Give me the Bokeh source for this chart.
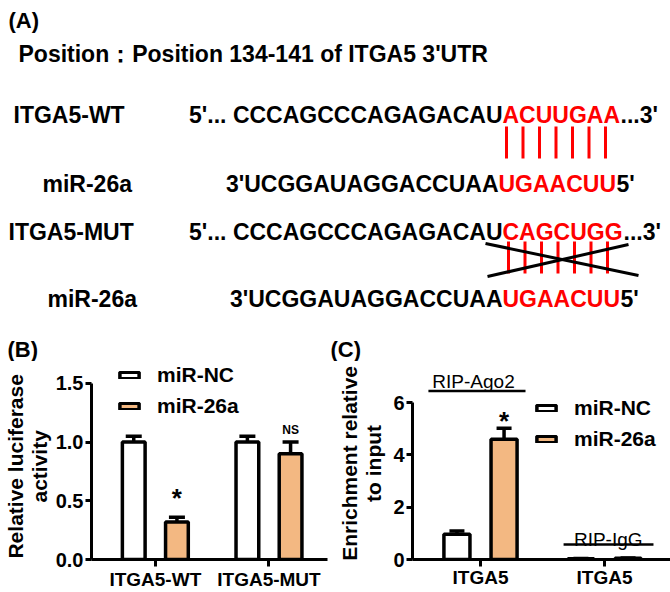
from bokeh.plotting import figure
from bokeh.models import (Range1d, ColumnDataSource, Whisker, TeeHead, Label, Legend,
                          LegendItem, FixedTicker, PrintfTickFormatter)
from bokeh.layouts import column, row
from bokeh.core.properties import value
from bokeh.embed import file_html
from bokeh.resources import INLINE

# ---------------- data: panel A ----------------
panel_tags = ["(A)", "(B)", "(C)"]
position_text = "Position\uff1aPosition 134-141 of ITGA5 3'UTR"
row_labels = ["ITGA5-WT", "miR-26a", "ITGA5-MUT", "miR-26a"]
seq_head = ["5'... CCCAGCCCAGAGACAU", "3'UCGGAUAGGACCUAA",
            "5'... CCCAGCCCAGAGACAU", "3'UCGGAUAGGACCUAA"]
seq_site = ["ACUUGAA", "UGAACUU", "CAGCUGG", "UGAACUU"]
seq_tail = ["...3'", "5'", "...3'", "5'"]
n_pairs = 7

# ---------------- data: panel B ----------------
series = ["miR-NC", "miR-26a"]
b_categories = ["ITGA5-WT", "ITGA5-MUT"]
b_nc = [1.0, 1.0]
b_nc_err = [0.05, 0.05]
b_mir = [0.32, 0.90]
b_mir_err = [0.04, 0.10]
b_marks = ["*", "NS"]
b_yticks = [0, 0.5, 1.0, 1.5]
b_ylabel = ["Relative luciferase", "activity"]

# ---------------- data: panel C ----------------
c_categories = ["ITGA5", "ITGA5"]
c_groups = ["RIP-Ago2", "RIP-IgG"]
c_nc = [0.97, 0.03]
c_nc_err = [0.12, 0.01]
c_mir = [4.6, 0.05]
c_mir_err = [0.42, 0.01]
c_marks = ["*", ""]
c_yticks = [0, 2, 4, 6]
c_ylabel = ["Enrichment relative", "to input"]

# ---------------- styles ----------------
FONT = "Liberation Sans"
RED = "#FF0000"
ORANGE = "#F3B882"
BAR_LW = 3.5
NBSP = "\u00a0"

# ================= Panel A (diagram, also holds the B/C panel tags) =================
A_H = 361
pa = figure(width=670, height=A_H, x_range=Range1d(0, 670), y_range=Range1d(A_H, 0),
            x_axis_type=None, y_axis_type=None, toolbar_location=None,
            output_backend="svg", min_border=0, outline_line_color=None)

txt = dict(text_font=value(FONT), text_font_style="bold", text_baseline="alphabetic")
pa.text(x=[8, 7, 330], y=[20, 349, 349], text=panel_tags, text_font_size="22px",
        text_color="black", text_align="left", **txt)
pa.text(x=[18], y=[53], text=[position_text], text_font_size="23px", text_color="black",
        text_align="left", **txt)

row_base = [114, 183, 231, 298]
label_x = [13, 42, 8, 47]
site_x = [502, 498, 502, 502]
tail_x = [620, 616, 623, 620]

pa.text(x=label_x, y=row_base, text=row_labels, text_font_size="23px", text_color="black",
        text_align="left", **txt)
pa.text(x=site_x, y=row_base, text=seq_head, text_font_size="23px", text_color="black",
        text_align="right", **txt)
pa.text(x=site_x, y=row_base, text=seq_site, text_font_size="23px", text_color=RED,
        text_align="left", **txt)
pa.text(x=tail_x, y=row_base, text=seq_tail, text_font_size="23px", text_color="black",
        text_align="left", **txt)

wt_x = [506 + 16.5 * i for i in range(n_pairs)]
mut_x = [508 + 16.5 * i for i in range(n_pairs)]
pa.segment(x0=wt_x, y0=[126] * n_pairs, x1=wt_x, y1=[158] * n_pairs,
           line_color=RED, line_width=3)
pa.segment(x0=mut_x, y0=[241] * n_pairs, x1=mut_x, y1=[273] * n_pairs,
           line_color=RED, line_width=3)
pa.segment(x0=[485, 487], y0=[243, 276], x1=[638, 628], y1=[275, 244],
           line_color="black", line_width=3)


def style_axes(p, yticks, xlabels, ylabel_lines, pad, ylab_standoff, xlab_standoff,
               yfmt=None):
    yax = p.yaxis[0]
    yax.bounds = (yticks[0], yticks[-1])
    yax.ticker = FixedTicker(ticks=yticks)
    if yfmt:
        yax.formatter = PrintfTickFormatter(format=yfmt)
    yax.major_tick_out = 6
    yax.major_tick_in = 0
    yax.major_label_standoff = 2
    # trailing no-break spaces nudge the centred title a little toward the x axis
    yax.axis_label = "\n".join(line + NBSP * pad for line in ylabel_lines)
    yax.axis_label_standoff = ylab_standoff
    yax.axis_label_text_font = FONT
    yax.axis_label_text_font_style = "bold"
    yax.axis_label_text_font_size = "21px"
    yax.axis_label_text_color = "black"
    yax.axis_label_text_line_height = 1.05
    xax = p.xaxis[0]
    xax.ticker = FixedTicker(ticks=list(range(len(xlabels))))
    xax.major_label_overrides = {i: lab for i, lab in enumerate(xlabels)}
    xax.major_tick_out = 7
    xax.major_tick_in = 0
    xax.major_label_standoff = xlab_standoff
    for ax in (xax, yax):
        ax.axis_line_width = 3
        ax.axis_line_color = "black"
        ax.major_tick_line_width = 3
        ax.major_tick_line_color = "black"
        ax.minor_tick_line_color = None
        ax.major_label_text_font = FONT
        ax.major_label_text_font_style = "bold"
        ax.major_label_text_color = "black"
    yax.major_label_text_font_size = "20px"
    xax.major_label_text_font_size = "19px"
    p.grid.visible = False
    p.outline_line_color = None


def add_bars(p, nc, nc_err, mir, mir_err, off, width, cap):
    n = len(nc)
    x_nc = [i - off for i in range(n)]
    x_mir = [i + off for i in range(n)]
    r_nc = p.vbar(x=x_nc, top=nc, width=width, bottom=0, fill_color="white",
                  line_color="black", line_width=BAR_LW)
    r_mir = p.vbar(x=x_mir, top=mir, width=width, bottom=0, fill_color=ORANGE,
                   line_color="black", line_width=BAR_LW)
    src = ColumnDataSource(dict(
        x=x_nc + x_mir,
        lower=list(nc) + list(mir),
        upper=[v + e for v, e in zip(nc, nc_err)] + [v + e for v, e in zip(mir, mir_err)]))
    p.add_layout(Whisker(source=src, base="x", lower="lower", upper="upper",
                         dimension="height", line_width=BAR_LW, line_color="black",
                         lower_head=None,
                         upper_head=TeeHead(size=cap, line_width=BAR_LW, line_color="black")))
    return r_nc, r_mir, x_mir


def add_legend(p, r_nc, r_mir, loc):
    leg = Legend(items=[LegendItem(label=series[0], renderers=[r_nc]),
                        LegendItem(label=series[1], renderers=[r_mir])],
                 location=loc, orientation="vertical", padding=0, margin=0, spacing=7,
                 glyph_width=24, glyph_height=8, label_standoff=16,
                 label_text_font=FONT, label_text_font_style="bold",
                 label_text_font_size="21px", label_text_color="black",
                 border_line_color=None, background_fill_alpha=0)
    p.add_layout(leg)


def lab(p, x, y, text, size, style="bold", align="center"):
    p.add_layout(Label(x=x, y=y, text=text, text_font=FONT, text_font_style=style,
                       text_font_size=size, text_color="black", text_align=align,
                       text_baseline="alphabetic"))


PANEL_H = 592 - A_H

# ================= Panel B =================
B_W, B_L, B_R, B_B = 328, 83, 1, 32
b_ppx, b_cat0 = 117.5, 66.0           # px per category, category 0 from frame left
b_ppy = 177 / 1.5                     # px per unit
b_fw, b_fh = B_W - B_L - B_R, PANEL_H - B_B
pb = figure(width=B_W, height=PANEL_H, toolbar_location=None, output_backend="svg",
            x_range=Range1d(-b_cat0 / b_ppx, (b_fw - b_cat0) / b_ppx),
            y_range=Range1d(0, b_fh / b_ppy),
            min_border_left=B_L, min_border_right=B_R, min_border_top=0,
            min_border_bottom=B_B)
style_axes(pb, b_yticks, b_categories, b_ylabel, 2, 2, 2, yfmt="%.1f")
rb_nc, rb_mir, bx_mir = add_bars(pb, b_nc, b_nc_err, b_mir, b_mir_err, 0.19, 0.2, 16)
add_legend(pb, rb_nc, rb_mir, (26, 141))
lab(pb, bx_mir[0], 0.52, b_marks[0], "26px")
lab(pb, bx_mir[1], 1.10, b_marks[1], "12px")

# ================= Panel C =================
C_W, C_L, C_R, C_B = 342, 84, 0, 29
c_ppx, c_cat0 = 124.0, 68.0
c_ppy = 160 / 6
c_fw, c_fh = C_W - C_L - C_R, PANEL_H - C_B
pc = figure(width=C_W, height=PANEL_H, toolbar_location=None, output_backend="svg",
            x_range=Range1d(-c_cat0 / c_ppx, (c_fw - c_cat0) / c_ppx),
            y_range=Range1d(0, c_fh / c_ppy),
            min_border_left=C_L, min_border_right=C_R, min_border_top=0,
            min_border_bottom=C_B)
style_axes(pc, c_yticks, c_categories, c_ylabel, 1, 5, 0)
rc_nc, rc_mir, cx_mir = add_bars(pc, c_nc, c_nc_err, c_mir, c_mir_err, 0.19, 0.21, 15)
add_legend(pc, rc_nc, rc_mir, (122, 108))
lab(pc, cx_mir[0], 5.29, c_marks[0], "26px")
# group brackets
grp_text_dx = [-0.056, 0.03]
grp_text_y = [6.82, 0.75]
grp_line = [(-0.42, 0.363, 6.45), (-0.33, 0.395, 0.57)]
for i, g in enumerate(c_groups):
    lab(pc, i + grp_text_dx[i], grp_text_y[i], g, "19px", style="normal")
pc.segment(x0=[i + grp_line[i][0] for i in range(2)], x1=[i + grp_line[i][1] for i in range(2)],
           y0=[grp_line[i][2] for i in range(2)], y1=[grp_line[i][2] for i in range(2)],
           line_color="black", line_width=2.5)

layout = column(pa, row(pb, pc))
open("out.html", "w").write(file_html(layout, INLINE))
